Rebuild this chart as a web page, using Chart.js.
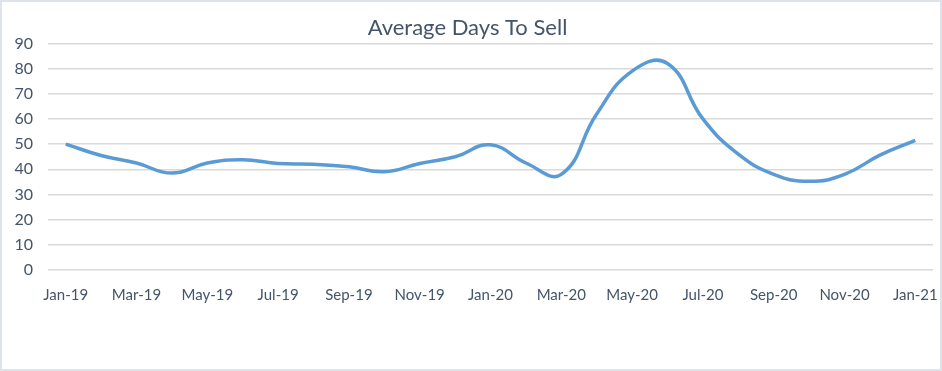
<!DOCTYPE html>
<html>
<head>
<meta charset="utf-8">
<script src="https://cdn.jsdelivr.net/npm/chart.js@4/dist/chart.umd.min.js"></script>
<style>
  html, body { margin: 0; padding: 0; background: #fff; }
  #wrap {
    width: 942px; height: 371px; box-sizing: border-box;
    border: 2px solid #DEE3EA; position: relative;
  }
</style>
</head>
<body>
<div id="wrap"><canvas id="myChart"></canvas></div>
<script>
// Datos
const meses = ['Jan-19','Feb-19','Mar-19','Apr-19','May-19','Jun-19','Jul-19','Aug-19','Sep-19','Oct-19','Nov-19','Dec-19',
               'Jan-20','Feb-20','Mar-20','Apr-20','May-20','Jun-20','Jul-20','Aug-20','Sep-20','Oct-20','Nov-20','Dec-20','Jan-21'];
const diasVenta = [50, 45.5, 42.5, 38.5, 42.5, 43.8, 42.3, 42, 41, 39, 42.3, 45,
                   49.7, 42.5, 38, 62, 79, 82, 60, 46, 38, 35.2, 38, 45.6, 51.5];
const ticksY = [0, 10, 20, 30, 40, 50, 60, 70, 80, 90];

const colorTexto = '#44546A';
const ctx = document.getElementById('myChart').getContext('2d');

const grafico = new Chart(ctx, {
    type: 'line',
    data: {
        labels: meses,
        datasets: [{
            label: 'Average Days To Sell',
            data: diasVenta,
            borderColor: '#5B9BD5',
            borderWidth: 3.5,
            pointRadius: 0,
            tension: 0.45,
            fill: false
        }]
    },
    options: {
        responsive: true,
        maintainAspectRatio: false,
        animation: false,
        layout: { padding: { left: 0, right: 7, top: 2, bottom: 49 } },
        plugins: {
            legend: { display: false },
            tooltip: { enabled: false },
            title: {
                display: true,
                text: 'Average Days To Sell',
                color: colorTexto,
                font: { family: 'Lato', size: 22, weight: 'normal' },
                padding: { top: 11, bottom: 2 }
            }
        },
        scales: {
            x: {
                offset: true,
                grid: { display: false, drawTicks: false },
                border: { display: false },
                afterFit: (axis) => { axis.paddingLeft = 0; axis.paddingRight = 0; },
                ticks: {
                    autoSkip: false,
                    maxRotation: 0,
                    color: colorTexto,
                    font: { family: 'Lato', size: 15 },
                    padding: 16,
                    callback: function(val, index){
                        return index % 2 === 0 ? this.getLabelForValue(val) : '';
                    }
                }
            },
            y: {
                min: 0,
                max: 90,
                afterBuildTicks: (axis) => { axis.ticks = ticksY.map(v => ({ value: v })); },
                afterFit: (axis) => { axis.width = 46; },
                grid: { color: '#D9D9D9', lineWidth: 1.5, drawTicks: false },
                border: { display: false },
                ticks: {
                    color: colorTexto,
                    font: { family: 'Lato', size: 16 },
                    padding: 15
                }
            }
        }
    }
});
</script>
</body>
</html>
